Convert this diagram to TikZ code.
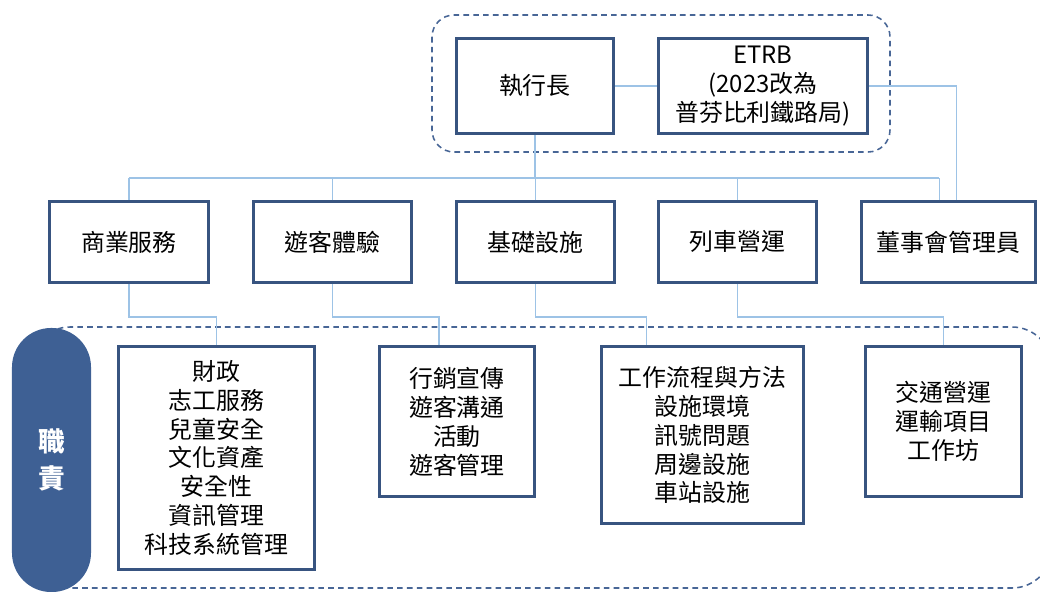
\documentclass[tikz,border=0pt]{standalone}
\usepackage{fontspec}
\setmainfont{Noto Sans CJK TC}
\usetikzlibrary{calc, positioning}
\definecolor{boxblue}{RGB}{56,84,128}
\definecolor{dashblue}{RGB}{72,102,150}
\definecolor{linkblue}{RGB}{157,195,230}
\definecolor{tagblue}{RGB}{62,96,148}

\begin{document}
\begin{tikzpicture}
  [x=0.025cm, y=-0.025cm,
   font=\fontsize{17}{20.6}\selectfont,
   box/.style = {draw=boxblue, line width=2pt, fill=white,
     align=center, inner sep=2pt, anchor=north west},
   link/.style = {draw=linkblue, line width=1pt},
   group/.style = {draw=dashblue, line width=1.1pt, dash pattern=on 4pt off 3pt},
   tag/.style = {fill=tagblue, text=white, font=\fontsize{19}{26}\selectfont\bfseries,
     align=center, minimum width=1.975cm, minimum height=6.6cm, rounded corners=0.98cm}
  ]
  \useasboundingbox (0,0) rectangle (1040,592);
  \draw[group, rounded corners=0.55cm] (432,15) rectangle (890,152);
  \draw[group, rounded corners=1cm] (30,327) rectangle (1052,588);

  \node[box, minimum width=3.925cm, minimum height=2.375cm] (ceo) at (455,37) {執行長};
  \node[box, minimum width=5.225cm, minimum height=2.375cm] (etrb) at (657,37)
    {ETRB\\(2023改為\\普芬比利鐵路局)};

  \node[box, minimum width=3.975cm, minimum height=2.025cm] (biz) at (48,200) {商業服務};
  \node[box, minimum width=3.95cm, minimum height=2.025cm] (visit) at (252,200) {遊客體驗};
  \node[box, minimum width=3.95cm, minimum height=2.025cm] (infra) at (455,200) {基礎設施};
  \node[box, minimum width=3.95cm, minimum height=2.025cm] (train) at (657,200) {列車營運};
  \node[box, minimum width=4.35cm, minimum height=2.025cm] (board) at (860,200) {董事會管理員};

  \node[box, minimum width=4.9cm, minimum height=5.575cm] (dut1) at (117,345)
    {財政\\志工服務\\兒童安全\\文化資產\\安全性\\資訊管理\\科技系統管理};
  \node[box, minimum width=3.875cm, minimum height=3.75cm] (dut2) at (378,345)
    {行銷宣傳\\遊客溝通\\活動\\遊客管理};
  \node[box, minimum width=5.05cm, minimum height=4.425cm] (dut3) at (600,345)
    {工作流程與方法\\設施環境\\訊號問題\\周邊設施\\車站設施};
  \node[box, minimum width=3.9cm, minimum height=3.75cm] (dut4) at (864,345)
    {交通營運\\運輸項目\\工作坊};

  \node[tag] (duty) at (51.5,460) {職\\責};

  \coordinate (bus) at (0,178);
  \draw[link] (ceo) -- (etrb);
  \draw[link] (etrb.east) -| ($(board.north)+(8,0)$);
  \draw[link] (ceo.south) -- (ceo.south |- bus);
  \draw[link] (biz.north |- bus) -- ($(board.north |- bus)+(-9,0)$);
  \foreach \n in {biz, visit, infra, train}
    \draw[link] (\n.north) -- (\n.north |- bus);
  \draw[link] ($(board.north)+(-9,0)$) -- ($(board.north |- bus)+(-9,0)$);

  \draw[link] (biz.south) -- ++(0,33) -| (dut1.north);
  \draw[link] (visit.south) -- ++(0,33) -| ($(dut2.north)+(-18,0)$);
  \draw[link] (infra.south) -- ++(0,33) -| ($(dut3.north)+(-56,0)$);
  \draw[link] (train.south) -- ++(0,33) -| (dut4.north);
\end{tikzpicture}
\end{document}
